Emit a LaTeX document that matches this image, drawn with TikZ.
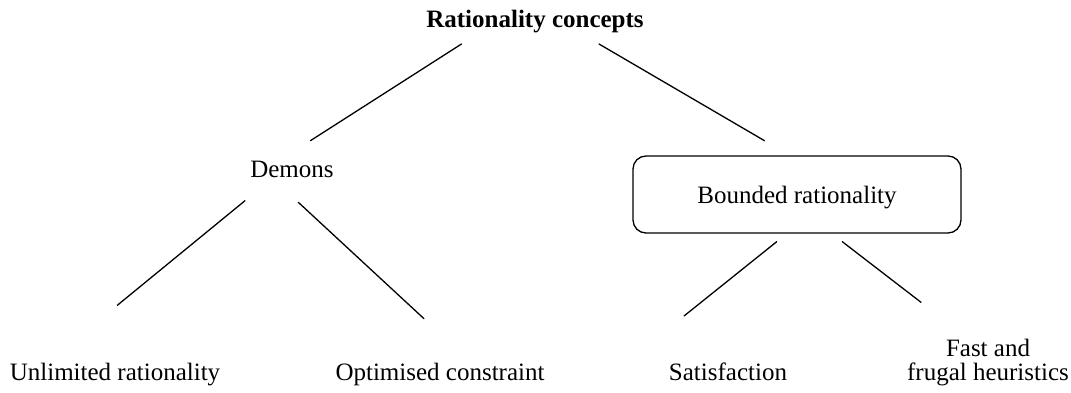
\documentclass[tikz,border=0pt]{standalone}
\usepackage{fontspec}
\setmainfont{Liberation Serif}
\begin{document}
\begin{tikzpicture}[x=1pt,y=-1pt,
  lbl/.style={inner sep=0pt,font=\fontsize{25}{24}\selectfont},
  conn/.style={line width=1.3pt,line cap=round},
  boxed/.style={draw,line width=1.3pt,rounded corners=13pt,minimum width=328pt,minimum height=77pt,inner sep=0pt,text height=17pt,text depth=0pt,font=\fontsize{25}{24}\selectfont}]
\useasboundingbox (0,0) rectangle (1071,393);
\node[lbl,anchor=base,font=\fontsize{25}{24}\selectfont\bfseries] (root) at (535,28) {Rationality concepts};
\node[lbl,anchor=base] (demons) at (292,177) {Demons};
\node[boxed] (bounded) at (797,194.5) {Bounded rationality\hspace{14pt}};
\node[lbl,anchor=base] (unl) at (115,380) {Unlimited rationality};
\node[lbl,anchor=base] (opt) at (440,380) {Optimised constraint};
\node[lbl,anchor=base] (sat) at (728,380) {Satisfaction};
\node[lbl,anchor=base,align=center] (fast) at (988,380) {Fast and\\frugal heuristics};
% connector ends
\coordinate (rL) at (461.5,44);
\coordinate (rR) at (599,44);
\coordinate (dT) at (310.4,140.7);
\coordinate (bT) at (764.5,140.7);
\coordinate (dL) at (245,200.7);
\coordinate (dR) at (298.3,202.3);
\coordinate (uT) at (117.3,305.3);
\coordinate (oT) at (424,318.7);
\coordinate (bL) at (776.7,241.7);
\coordinate (bR) at (842.3,241.7);
\coordinate (sT) at (684,316);
\coordinate (fT) at (921,302.3);
\draw[conn] (rL) -- (dT);
\draw[conn] (rR) -- (bT);
\draw[conn] (dL) -- (uT);
\draw[conn] (dR) -- (oT);
\draw[conn] (bL) -- (sT);
\draw[conn] (bR) -- (fT);
\end{tikzpicture}
\end{document}
